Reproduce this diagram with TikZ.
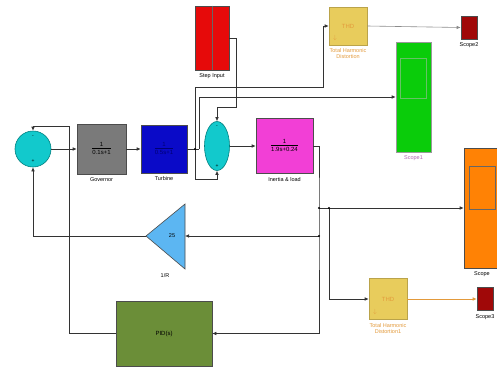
\documentclass[tikz,border=0pt]{standalone}
\usepackage{fontspec}
\setmainfont{Liberation Sans}
\usepackage{xcolor}
\usepackage{tikz}
\usetikzlibrary{arrows.meta,shapes.geometric}
\definecolor{sumcyan}{HTML}{12C9CC}
\definecolor{govgray}{HTML}{7A7A7A}
\definecolor{turbblue}{HTML}{0A0AC8}
\definecolor{stepred}{HTML}{E60A0A}
\definecolor{thdyellow}{HTML}{E8CC5C}
\definecolor{thdtext}{HTML}{E39A3B}
\definecolor{scopegreen}{HTML}{0ACC0A}
\definecolor{inertiamag}{HTML}{F23FD6}
\definecolor{scopeorange}{HTML}{FF8205}
\definecolor{gainblue}{HTML}{5CB6F2}
\definecolor{pidgreen}{HTML}{6B8E38}
\definecolor{scopered}{HTML}{A00808}
\newcommand{\blkfrac}[2]{\begin{tabular}{@{}c@{}}#1\\[-1pt]\hline\rule{0pt}{6pt}#2\end{tabular}}
\tikzset{
  blk/.style={draw=black!70,line width=0.6pt,minimum width=#1,inner sep=0pt},
  lbl/.style={font=\fontsize{5.5}{6}\selectfont},
  btxt/.style={font=\fontsize{6}{7}\selectfont},
  sig/.style={line width=0.6pt,black!80,-{Latex[length=4pt,width=3.5pt]}},
  wire/.style={line width=0.6pt,black!80},
  jdot/.style={circle,fill=black,inner sep=0pt,minimum size=2.4pt}
}

\begin{document}
\begin{tikzpicture}[x=1pt,y=-1pt]
  \useasboundingbox (0,0) rectangle (497,370);
  \fill[white] (0,0) rectangle (497,370);
  \node[circle,fill=sumcyan,draw=teal,line width=0.6pt,minimum size=36pt,inner sep=0pt] (sumA) at (33,149) {};
  \node[font=\fontsize{5}{5}\selectfont] at (33,137) {-};
  \node[font=\fontsize{5}{5}\selectfont] at (33,161) {+};
  \node[blk=49pt,fill=govgray,minimum height=50pt,label={[lbl]below:Governor},
        btxt] (gov) at (101.5,149) {\blkfrac{1}{0.1s+1}};
  \node[blk=46pt,fill=turbblue,minimum height=48pt,label={[lbl]below:Turbine},
        text=blue!45!black,btxt] (turb) at (164,149) {\blkfrac{1}{0.5s+1}};
  \node[ellipse,fill=sumcyan,draw=teal,line width=0.6pt,minimum width=25pt,minimum height=49pt,inner sep=0pt] (sumB) at (217,146) {};
  \node[font=\fontsize{5}{5}\selectfont] at (217,127) {-};
  \node[font=\fontsize{5}{5}\selectfont] at (217,166) {+};
  \node[blk=34pt,fill=stepred,minimum height=64pt,label={[lbl]below:Step Input}] (step) at (212,38) {};
  \draw[black!60,line width=0.5pt] (step.north) -- (step.south);
  \node[blk=57pt,fill=inertiamag,minimum height=55pt,label={[lbl]below:Inertia \& load},
        btxt] (inertia) at (284.5,146) {\blkfrac{1}{1.9s+0.24}};
  \node[blk=38pt,draw=thdyellow!80!black,fill=thdyellow,minimum height=38pt,text=thdtext,btxt,
        label={[lbl,text=thdtext,align=center]below:Total Harmonic\\Distortion}] (thdA) at (348,26) {THD};
  \node[text=thdtext,font=\fontsize{6}{6}\selectfont] at (335,38) {$\downarrow$};
  \node[blk=16pt,fill=scopered,minimum height=23pt,label={[lbl]below:Scope2}] (scopeA) at (469,27.5) {};
  \node[blk=35pt,draw=black!40,fill=scopegreen,minimum height=110pt,
        label={[lbl,text=violet!60]below:Scope1}] (scopeB) at (413.5,97) {};
  \draw[green!60!black!60,line width=0.4pt] (400,58) rectangle (426,98);
  \node[blk=36pt,fill=scopeorange,minimum height=120pt,label={[lbl]below:Scope}] (scopeC) at (482,208) {};
  \draw[black!60,line width=0.6pt] (469,166) rectangle (495,209);
  \fill[gainblue,draw=black!70,line width=0.6pt] (146,236) -- (185,204) -- (185,269) -- cycle;
  \node[lbl] (gain) at (172,236) {25};
  \node[lbl] at (165,276) {1/R};
  \coordinate (gainin) at (185,236);
  \coordinate (gainout) at (146,236);
  \node[blk=96pt,fill=pidgreen,minimum height=65pt,btxt] (pid) at (164,333.5) {PID(s)};
  \node[blk=38pt,draw=thdyellow!80!black,fill=thdyellow,minimum height=41pt,text=thdtext,btxt,
        label={[lbl,text=thdtext,align=center]below:Total Harmonic\\Distortion1}] (thdB) at (388,299) {THD};
  \node[text=thdtext,font=\fontsize{6}{6}\selectfont] at (375,312) {$\downarrow$};
  \node[blk=16pt,fill=scopered,minimum height=23pt,label={[lbl]below:Scope3}] (scopeD) at (485,299) {};
  \coordinate (tdot) at (195,149);
  \coordinate (tdotB) at (199,149);
  \coordinate (jA) at (319,208);
  \coordinate (jB) at (319,236);
  \coordinate (jC) at (329,208);
  \draw[sig] (sumA) -- (gov);
  \draw[sig] (gov) -- (turb);
  \draw[wire] (turb.east) -- (tdotB);
  \draw[sig] (tdot) -- ++(0,30) -| (sumB.south);
  \draw[sig] (tdot) |- (323,87) |- (thdA.west);
  \draw[sig] (tdotB) |- (scopeB.west);
  \draw[sig] (step.east) -| ++(7,69) -| (sumB.north);
  \draw[sig] (sumB) -- (inertia);
  \draw[sig] (inertia.east) -| (jA) |- (pid.east);
  \draw[sig] (jA) -- (scopeC.west);
  \draw[sig] (jB) -- (gainin);
  \draw[sig] (jC) |- (thdB.west);
  \draw[sig,black!45] (thdA.east) -- (scopeA.west);
  \draw[sig,thdtext] (thdB.east) -- (scopeD.west);
  \draw[sig] (gainout) -| (sumA.south);
  \draw[sig] (pid.west) -| (69,126) -| (sumA.north);
  \foreach \j in {tdot,jA,jB,jC}
    \node[jdot] at (\j) {};
\end{tikzpicture}
\end{document}
